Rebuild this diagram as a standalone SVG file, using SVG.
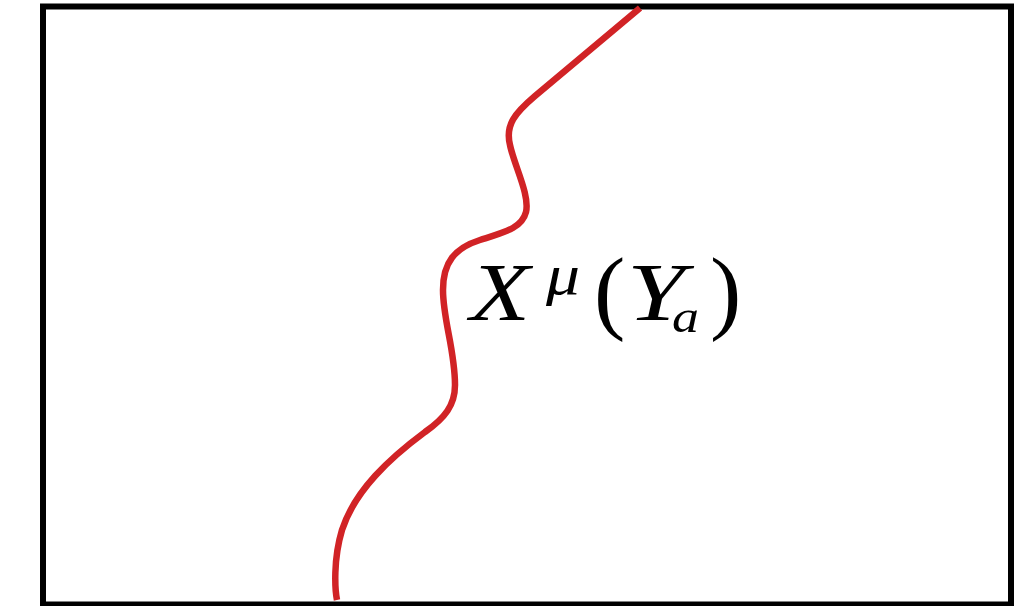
<svg xmlns="http://www.w3.org/2000/svg" width="1020" height="606" viewBox="0 0 1020 606">
<style>
.frame{fill:none;stroke:#000;stroke-width:6}
.curve{fill:none;stroke:#d12326;stroke-width:6.5;stroke-linecap:butt;stroke-linejoin:round}
.m{font-family:"Liberation Serif","DejaVu Serif",serif;fill:#000}
.i{font-style:italic}
</style>
<rect width="1020" height="606" fill="#fff"/>
<g id="frame"><rect class="frame" x="43" y="6.5" width="968" height="598"/></g>
<g id="connectors">
<path class="curve" d="M 640 8 L 535 96 C 515 113, 505 125, 510 145 C 514 165, 530 195, 526 212 C 522 228, 505 232, 480 240 C 455 248, 443 262, 443 290 C 443 320, 455 350, 455 385 C 455 405, 445 418, 425 432 C 390 458, 355 490, 342 530 C 333 560, 335 590, 337 600"/>
</g>
<g id="label">
<text class="m i" x="470" y="320" font-size="83" textLength="60" lengthAdjust="spacingAndGlyphs">X</text>
<text class="m i" x="546" y="294" font-size="58" textLength="34" lengthAdjust="spacingAndGlyphs">μ</text>
<text class="m" x="594" y="322" font-size="94">(</text>
<text class="m i" x="627" y="320" font-size="83" textLength="58" lengthAdjust="spacingAndGlyphs">Y</text>
<text class="m i" x="672" y="332" font-size="46" textLength="27" lengthAdjust="spacingAndGlyphs">a</text>
<text class="m" x="710" y="322" font-size="94">)</text>
</g>
</svg>
